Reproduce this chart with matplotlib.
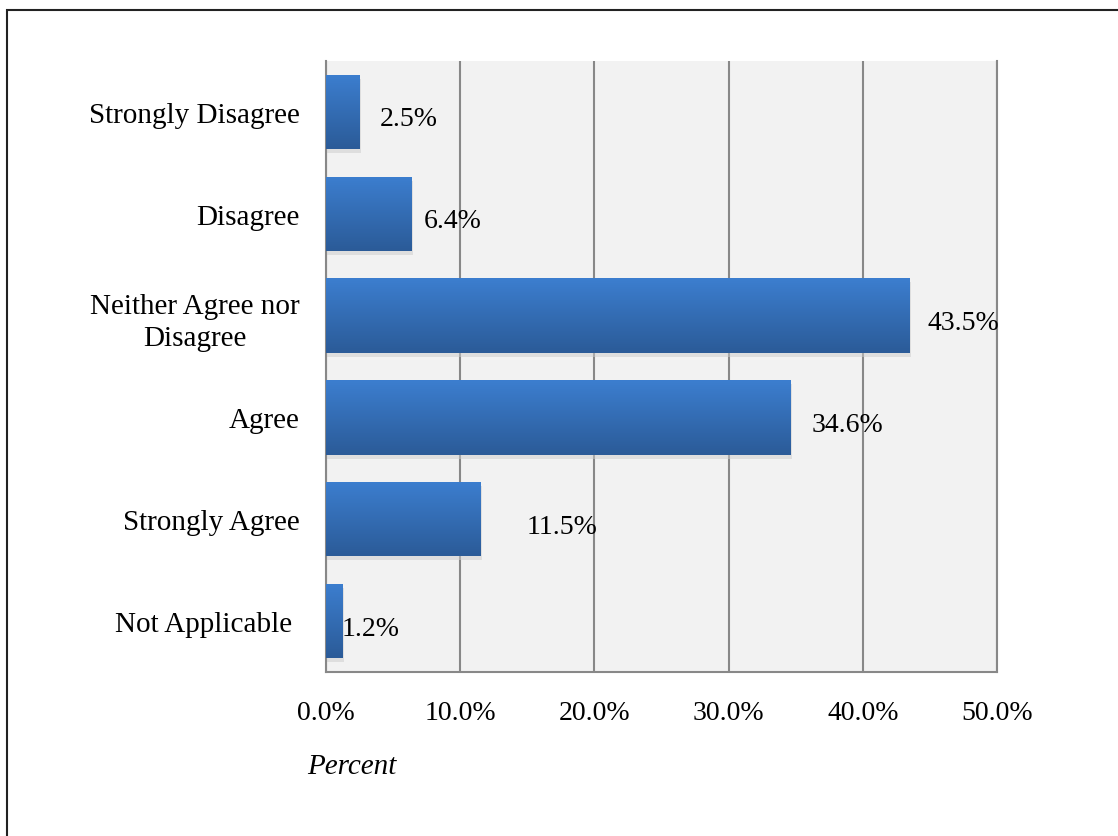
import numpy as np
import matplotlib.pyplot as plt
from matplotlib.patches import Rectangle
from matplotlib.colors import LinearSegmentedColormap

categories = ["Strongly Disagree", "Disagree", "Neither Agree nor\nDisagree",
              "Agree", "Strongly Agree", "Not Applicable "]
percent = [2.5, 6.4, 43.5, 34.6, 11.5, 1.2]
value_labels = ["2.5%", "6.4%", "43.5%", "34.6%", "11.5%", "1.2%"]
xticks = [0, 10, 20, 30, 40, 50]

# label offsets (px) from the bar end, as in the original layout
label_offset = [20, 12, 18, 21, 46, 0]

plt.rcParams['font.family'] = ['Liberation Serif', 'DejaVu Serif']

fig = plt.figure(figsize=(11.18, 8.37), dpi=100)
ax = fig.add_axes([326/1118, 1-673/837, (997-326)/1118, (673-62)/837])
ax.set_facecolor("#f2f2f2")

y = np.arange(len(categories))
h = 0.73
grad = np.linspace(0, 1, 100).reshape(-1, 1)
cmap = LinearSegmentedColormap.from_list("bar", ["#3c7ecf", "#2b5b98"])

for yi, v in zip(y, percent):
    # soft shadow under the bar
    ax.add_patch(Rectangle((0, yi - h/2 + 0.04), v + 0.12, h, facecolor="#cccccc",
                           edgecolor="none", zorder=2, alpha=0.5))
    bar = ax.barh(yi, v, height=h, color="#3570b8", zorder=3)[0]
    im = ax.imshow(grad, extent=(0, v, yi + h/2, yi - h/2), aspect="auto",
                   cmap=cmap, zorder=4, origin="upper")
    im.set_clip_path(bar)

for yi, v, lab, off in zip(y, percent, value_labels, label_offset):
    ax.annotate(lab, (v, yi), xytext=(off, -7), textcoords="offset pixels",
                ha="left", va="center", fontsize=20, zorder=5)

ax.set_xlim(0, 50)
ax.set_ylim(len(categories) - 0.5, -0.5)
ax.set_xticks(xticks)
ax.set_xticklabels(["%.1f%%" % t for t in xticks], fontsize=20)
ax.set_yticks(y)
ax.set_yticklabels(categories, fontsize=21, multialignment="center", linespacing=1.3)
ax.tick_params(axis="both", length=0)
ax.tick_params(axis="x", pad=20)
ax.tick_params(axis="y", pad=19)
ax.grid(axis="x", color="#888888", linewidth=1.5, zorder=1)
ax.set_axisbelow(True)
for s in ["left", "bottom", "right"]:
    ax.spines[s].set_color("#888888")
    ax.spines[s].set_linewidth(1.5)
ax.spines["top"].set_visible(False)

fig.text(352/1118, 1-767/837, "Percent", style="italic", fontsize=21,
         ha="center", va="center")

fig.patches.append(Rectangle((7/1118, -0.01), 1.1, 1 - 11/837 + 0.01,
                             transform=fig.transFigure, fill=False,
                             edgecolor="#222222", linewidth=1.5))

plt.savefig("out.png", dpi=100)
